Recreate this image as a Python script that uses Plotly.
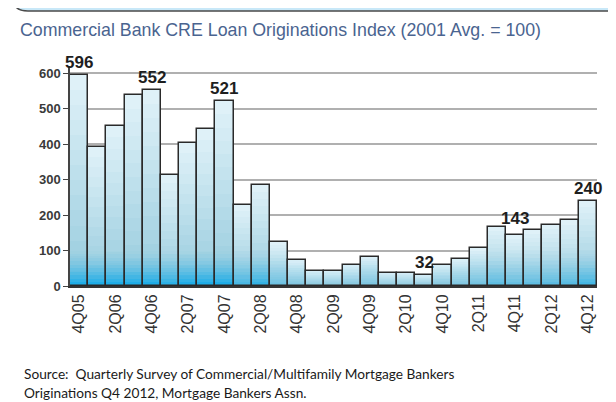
import plotly.graph_objects as go
import numpy as np

quarters = ["4Q05","1Q06","2Q06","3Q06","4Q06","1Q07","2Q07","3Q07","4Q07",
            "1Q08","2Q08","3Q08","4Q08","1Q09","2Q09","3Q09","4Q09","1Q10",
            "2Q10","3Q10","4Q10","1Q11","2Q11","3Q11","4Q11","1Q12","2Q12",
            "3Q12","4Q12"]
values = [596,391,451,538,552,312,403,442,521,227,286,124,72,43,43,59,82,38,
          38,32,59,75,106,167,143,157,172,185,240]
value_labels = ["596","","","","552","","","","521","","","","","","","","",
                "","","32","","","","","143","","","","240"]
tick_labels = quarters[::2]
y_ticks = [0,100,200,300,400,500,600]

title_text = "Commercial Bank CRE Loan Originations Index (2001 Avg. = 100)"
source_lines = ["Source:  Quarterly Survey of Commercial/Multifamily Mortgage Bankers",
                "Originations Q4 2012, Mortgage Bankers Assn."]

# page body has an 8px margin: figure occupies window pixels 8..616
OFF = 8
W, H = 616 - OFF, 402 - OFF
L, R, T, B = 70 - OFF, 19, 66 - OFF, 116
PW, PH = W - L - R, H - T - B

def px(x):
    return (x - OFF - L) / PW

def py(y):
    return (H - B - (y - OFF)) / PH

v = np.array(values, dtype=float)
fig = go.Figure()

# vertical gradient (relative to each bar)
N = 14
c_bot = np.array([150, 203, 222])
c_top = np.array([226, 243, 249])
for k in range(N):
    t = (k + 0.5) / N
    c = (c_bot * (1 - t) + c_top * t).astype(int)
    fig.add_bar(x=quarters, y=v / N, base=v * k / N,
                marker=dict(color=f"rgb({c[0]},{c[1]},{c[2]})", line=dict(width=0)),
                hoverinfo="skip", showlegend=False)

# blue glow near the base
steps = 10
for k in range(steps):
    lo = np.minimum(v, k * 10.0)
    hi = np.minimum(v, (k + 1) * 10.0)
    a = 0.9 * (1 - k / steps) ** 1.6 * np.minimum(1.0, v / 350.0)
    cols = [f"rgba(18,170,232,{ai:.3f})" for ai in a]
    fig.add_bar(x=quarters, y=hi - lo, base=lo,
                marker=dict(color=cols, line=dict(width=0)),
                hoverinfo="skip", showlegend=False)

# outline
fig.add_bar(x=quarters, y=v, marker=dict(color="rgba(0,0,0,0)",
            line=dict(color="#2a2a2a", width=1.5)), showlegend=False)

annotations = []
for q, val, lab in zip(quarters, values, value_labels):
    if lab:
        annotations.append(dict(x=q, y=val, text=f"<b>{lab}</b>", showarrow=False,
                                yanchor="bottom", yshift=5 if lab == "143" else 1,
                                font=dict(family="Liberation Sans, Arial", size=17, color="#1e1e1e")))

annotations.append(dict(x=px(18), y=py(30), xref="paper", yref="paper", text=title_text,
                        showarrow=False, xanchor="left", yanchor="middle",
                        font=dict(family="Liberation Sans, Arial", size=17.8, color="#4a6490")))
for i, line in enumerate(source_lines):
    annotations.append(dict(x=px(22), y=py(373 + 19 * i), xref="paper", yref="paper",
                            text=line, showarrow=False, xanchor="left", yanchor="middle",
                            font=dict(family="Lato, Open Sans", size=13.7, color="#1a1a1a")))

shapes = [dict(type="path", xref="paper", yref="paper",
               path=(f"M {px(13)},{py(-20)} L {px(13)},{py(-2)} "
                     f"Q {px(13)},{py(11)} {px(28)},{py(11)} "
                     f"L {px(630)},{py(11)} L {px(630)},{py(-20)} Z"),
               fillcolor="#c8e8f8", line=dict(color="#4a4a4a", width=1.5), layer="above")]

fig.update_layout(
    width=W, height=H, margin=dict(l=L, r=R, t=T, b=B),
    barmode="overlay", bargap=0,
    plot_bgcolor="white", paper_bgcolor="white",
    annotations=annotations, shapes=shapes,
    xaxis=dict(type="category", range=[-0.5, len(quarters) - 0.5],
               tickmode="array", tickvals=tick_labels, ticktext=tick_labels,
               tickangle=-90, showline=True, linecolor="#333", linewidth=2,
               showgrid=False, ticks="",
               tickfont=dict(family="Liberation Sans, Arial", size=16, color="#333")),
    yaxis=dict(range=[0, 620], tickvals=y_ticks, showgrid=True, gridcolor="#b0b0b0",
               gridwidth=1.5, showline=True, linecolor="#444", linewidth=1.5,
               ticks="outside", ticklen=5, tickcolor="#444", zeroline=False,
               tickfont=dict(family="Liberation Sans, Arial", size=13, color="#3a3a3a",
                             weight="bold")),
)

fig.write_html("out.html")
